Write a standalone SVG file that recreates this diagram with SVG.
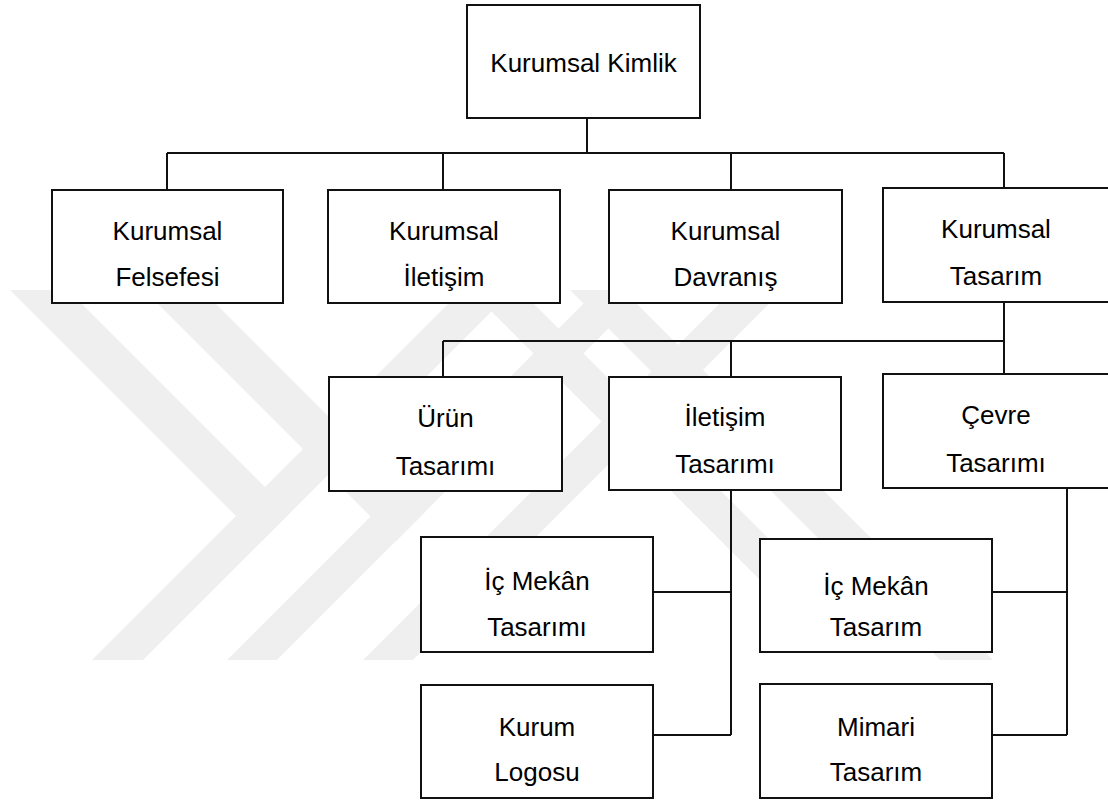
<svg xmlns="http://www.w3.org/2000/svg" width="1108" height="800" viewBox="0 0 1108 800">
<style>
.box{fill:#fff;stroke:#111;stroke-width:2}
.lbl{font-family:"Liberation Sans",Arial,sans-serif;font-size:26px;fill:#000;text-anchor:middle}
.wm{fill:#efefef}
#connectors path{fill:none;stroke:#111;stroke-width:2}
</style>
<rect width="1108" height="800" fill="#fff"/>
<g id="watermark">
<polygon class="wm" points="10,290 68,290 290.5,512.5 261.5,541.5"/>
<polygon class="wm" points="92,660 143,660 513,290 462,290"/>
<polygon class="wm" points="144,290 202,290 424.5,512.5 395.5,541.5"/>
<polygon class="wm" points="227,660 277,660 647,290 597,290"/>
<polygon class="wm" points="363,660 413,660 783,290 733,290"/>
<polygon class="wm" points="570,290 623,290 993,660 940,660"/>
<polygon class="wm" points="470,290 520,290 858,628 833,653"/>
</g>
<g id="connectors">
<path d="M587,118V153M167,153H1004M167,153V190M443,153V190M731,153V190M1004,153V188"/>
<path d="M1004,302V341M443,341H1004M443,341V377M731,341V377M1004,341V374"/>
<path d="M731,490V735M653,592H731M653,735H731"/>
<path d="M1067,488V735M992,592H1067M992,735H1067"/>
</g>
<g id="n-kimlik"><rect class="box" x="467" y="5" width="233" height="113"/><text class="lbl" x="583.5" y="72">Kurumsal Kimlik</text></g>
<g id="n-felsefe"><rect class="box" x="52" y="190" width="231" height="113"/><text class="lbl" x="167.5" y="240">Kurumsal</text><text class="lbl" x="167.5" y="286">Felsefesi</text></g>
<g id="n-iletisim1"><rect class="box" x="328" y="190" width="232" height="113"/><text class="lbl" x="444" y="240">Kurumsal</text><text class="lbl" x="444" y="286">İletişim</text></g>
<g id="n-davranis"><rect class="box" x="609" y="190" width="233" height="113"/><text class="lbl" x="725.5" y="240">Kurumsal</text><text class="lbl" x="725.5" y="286">Davranış</text></g>
<g id="n-tasarim"><rect class="box" x="883" y="188" width="232" height="114"/><text class="lbl" x="996" y="238">Kurumsal</text><text class="lbl" x="996" y="285">Tasarım</text></g>
<g id="n-urun"><rect class="box" x="329" y="377" width="233" height="114"/><text class="lbl" x="445.5" y="427">Ürün</text><text class="lbl" x="445.5" y="475">Tasarımı</text></g>
<g id="n-iletisim2"><rect class="box" x="609" y="377" width="232" height="113"/><text class="lbl" x="725" y="426">İletişim</text><text class="lbl" x="725" y="473">Tasarımı</text></g>
<g id="n-cevre"><rect class="box" x="883" y="374" width="232" height="114"/><text class="lbl" x="996" y="424">Çevre</text><text class="lbl" x="996" y="472">Tasarımı</text></g>
<g id="n-icmekan1"><rect class="box" x="421" y="537" width="232" height="115"/><text class="lbl" x="537" y="590">İç Mekân</text><text class="lbl" x="537" y="636">Tasarımı</text></g>
<g id="n-logo"><rect class="box" x="421" y="685" width="232" height="113"/><text class="lbl" x="537" y="736">Kurum</text><text class="lbl" x="537" y="781">Logosu</text></g>
<g id="n-icmekan2"><rect class="box" x="760" y="539" width="232" height="113"/><text class="lbl" x="876" y="595">İç Mekân</text><text class="lbl" x="876" y="636">Tasarım</text></g>
<g id="n-mimari"><rect class="box" x="760" y="684" width="232" height="114"/><text class="lbl" x="876" y="736">Mimari</text><text class="lbl" x="876" y="781">Tasarım</text></g>
</svg>
